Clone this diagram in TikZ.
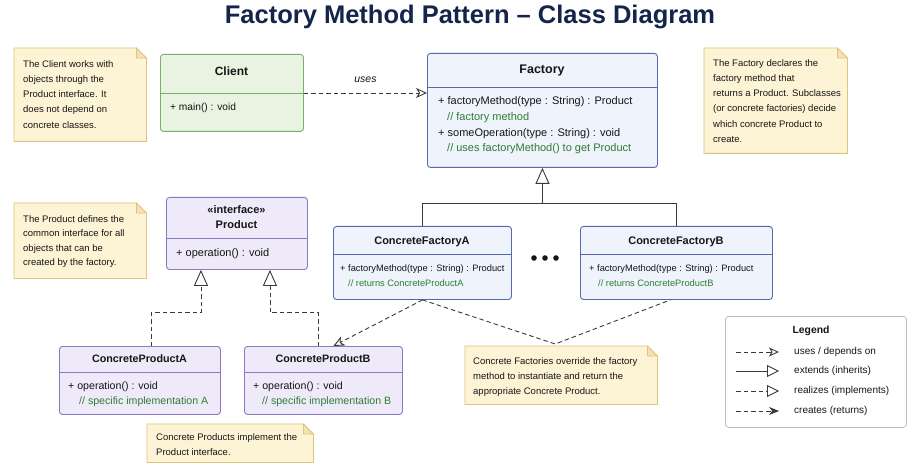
\documentclass[tikz,border=0pt]{standalone}
\usepackage{fontspec}
\setmainfont{Liberation Sans}
\usetikzlibrary{arrows.meta,calc}
\definecolor{titlecol}{HTML}{13254A}
\definecolor{txt}{HTML}{161616}
\definecolor{cmtgreen}{HTML}{2E7D32}
\definecolor{clientfill}{HTML}{E8F3E2}
\definecolor{clientline}{HTML}{7AAE6C}
\definecolor{facfill}{HTML}{EEF3FC}
\definecolor{facline}{HTML}{5669B0}
\definecolor{prodfill}{HTML}{EEEAF9}
\definecolor{prodline}{HTML}{8A79C2}
\definecolor{notefill}{HTML}{FDF3D5}
\definecolor{noteline}{HTML}{E2C37B}
\definecolor{notefold}{HTML}{F4E3B2}
\definecolor{conn}{HTML}{3A3A3A}
\definecolor{legline}{HTML}{BDBDBD}
\newcommand\fsz[1]{\fontsize{#1}{14}\selectfont}
\newcommand\drawnote[1]{%
  \filldraw[noteline, line width=0.8pt, fill=notefill] (#1.north west) -- ($(#1.north east)+(-10,0)$) -- ($(#1.north east)+(0,10)$) -- (#1.south east) -- (#1.south west) -- cycle;
  \filldraw[noteline, line width=0.8pt, fill=notefold] ($(#1.north east)+(-10,0)$) -- ($(#1.north east)+(-10,10)$) -- ($(#1.north east)+(0,10)$) -- cycle;}
\begin{document}
\begin{tikzpicture}[x=1pt,y=-1pt,
  cls/.style={draw, rounded corners=3pt, line width=0.9pt, anchor=north west, inner sep=0pt},
  notebox/.style={anchor=north west, inner sep=0pt},
  notetext/.style={anchor=north west, inner sep=0pt, align=left, text=txt},
  ctitle/.style={inner sep=0pt, text=txt, text height=8pt, text depth=2pt},
  mem/.style={anchor=west, inner sep=0pt, text=txt, text height=7pt, text depth=2pt},
  cmt/.style={mem, text=cmtgreen},
  dashline/.style={draw=conn, line width=0.9pt, dash pattern=on 4.5pt off 3pt},
  solidline/.style={draw=conn, line width=0.9pt},
  usesTip/.tip={Stealth[open, length=11pt, width=10pt, inset=3pt]},
  realTip/.tip={Triangle[open, length=16pt, width=14pt]},
  legReal/.tip={Triangle[open, length=12pt, width=12pt]},
  legUses/.tip={Stealth[open, length=10pt, width=9pt, inset=2.5pt]},
  legCreate/.tip={Stealth[length=10pt, width=8pt]},
  legtext/.style={anchor=west, inner sep=0pt, text=txt, font=\fsz{10}, text height=7pt, text depth=2pt}
]
\useasboundingbox[fill=white] (0,0) rectangle (921,465);

% title
\node[font=\fsz{25.5}\bfseries, text=titlecol, inner sep=0pt] (title) at (470,17) {Factory Method Pattern – Class Diagram};

% notes
\node[notebox, minimum width=132pt, minimum height=93pt] (n1) at (14,48) {};
\drawnote{n1}
\node[notetext, font=\fontsize{9.5}{15.2}\selectfont] (n1t) at (23,60.2) {The Client works with\\objects through the\\Product interface. It\\does not depend on\\concrete classes.};

\node[notebox, minimum width=143pt, minimum height=105pt] (n2) at (704,48) {};
\drawnote{n2}
\node[notetext, font=\fontsize{9.5}{15.2}\selectfont] (n2t) at (713,59.2) {The Factory declares the\\factory method that\\returns a Product. Subclasses\\(or concrete factories) decide\\which concrete Product to\\create.};

\node[notebox, minimum width=132pt, minimum height=75pt] (n3) at (14,203) {};
\drawnote{n3}
\node[notetext, font=\fontsize{9.5}{14.5}\selectfont] (n3t) at (23,215.2) {The Product defines the\\common interface for all\\objects that can be\\created by the factory.};

\node[notebox, minimum width=192pt, minimum height=58pt] (note3) at (465,346) {};
\drawnote{note3}
\node[notetext, font=\fontsize{9.5}{15}\selectfont] (note3t) at (473,357.2) {Concrete Factories override the factory\\method to instantiate and return the\\appropriate Concrete Product.};

\node[notebox, minimum width=166pt, minimum height=38pt] (n4) at (147,424) {};
\drawnote{n4}
\node[notetext, font=\fontsize{9.5}{15}\selectfont] (n4t) at (156,433.2) {Concrete Products implement the\\Product interface.};

% Client
\node[cls, draw=clientline, fill=clientfill, minimum width=143pt, minimum height=77pt] (client) at (160,54) {};
\coordinate (cdiv) at ($(client.north east)+(0,39)$);
\draw[clientline, line width=0.9pt] ($(client.north west)+(0,39)$) -- (cdiv);
\node[ctitle, font=\fsz{12}\bfseries] (clientT) at (231.5,73) {Client};
\node[mem, font=\fsz{10.2}] (clientM) at (170,108) {+ main() : void};

% Factory
\node[cls, draw=facline, fill=facfill, minimum width=230pt, minimum height=114pt] (factory) at (427,53) {};
\draw[facline, line width=0.9pt] ($(factory.north west)+(0,34)$) -- ($(factory.north east)+(0,34)$);
\node[ctitle, font=\fsz{12.5}\bfseries] (factoryT) at (542,71) {Factory};
\node[mem, font=\fsz{11}] (factoryM1) at (438,102) {+ factoryMethod(type : String) : Product};
\node[cmt, font=\fsz{11}] (factoryC1) at (447,118) {// factory method};
\node[mem, font=\fsz{11}] (factoryM2) at (438,134) {+ someOperation(type : String) : void};
\node[cmt, font=\fsz{11}] (factoryC2) at (447,149) {// uses factoryMethod() to get Product};

% Product
\node[cls, draw=prodline, fill=prodfill, minimum width=141pt, minimum height=72pt] (product) at (166,197) {};
\draw[prodline, line width=0.9pt] ($(product.north west)+(0,41)$) -- ($(product.north east)+(0,41)$);
\node[ctitle, font=\fsz{11}\bfseries] (productS) at (236.5,211) {«interface»};
\node[ctitle, font=\fsz{11}\bfseries] (productT) at (236.5,226) {Product};
\node[mem, font=\fsz{11}] (productM) at (176,254) {+ operation() : void};

% ConcreteFactoryA
\node[cls, draw=facline, fill=facfill, minimum width=178pt, minimum height=73pt] (cfA) at (333,226) {};
\draw[facline, line width=0.9pt] ($(cfA.north west)+(0,28)$) -- ($(cfA.north east)+(0,28)$);
\node[ctitle, font=\fsz{11}\bfseries] (cfAT) at (422,241) {ConcreteFactoryA};
\node[mem, font=\fsz{9.3}] (cfAM) at (340,269) {+ factoryMethod(type : String) : Product};
\node[cmt, font=\fsz{9.3}] (cfAC) at (348,284) {// returns ConcreteProductA};

% ConcreteFactoryB
\node[cls, draw=facline, fill=facfill, minimum width=192pt, minimum height=73pt] (cfB) at (580,226) {};
\draw[facline, line width=0.9pt] ($(cfB.north west)+(0,28)$) -- ($(cfB.north east)+(0,28)$);
\node[ctitle, font=\fsz{11}\bfseries] (cfBT) at (676,241) {ConcreteFactoryB};
\node[mem, font=\fsz{9.3}] (cfBM) at (589,269) {+ factoryMethod(type : String) : Product};
\node[cmt, font=\fsz{9.3}] (cfBC) at (598,284) {// returns ConcreteProductB};

% dots
\fill[txt] (534,258) circle (2.8pt) (545,258) circle (2.8pt) (556,258) circle (2.8pt);

% ConcreteProductA
\node[cls, draw=prodline, fill=prodfill, minimum width=161pt, minimum height=68pt] (cpA) at (59,346) {};
\draw[prodline, line width=0.9pt] ($(cpA.north west)+(0,26)$) -- ($(cpA.north east)+(0,26)$);
\node[ctitle, font=\fsz{10.75}\bfseries] (cpAT) at (139.5,359) {ConcreteProductA};
\node[mem, font=\fsz{10.6}] (cpAM) at (68,387) {+ operation() : void};
\node[cmt, font=\fsz{10.6}] (cpAC) at (79,402) {// specific implementation A};

% ConcreteProductB
\node[cls, draw=prodline, fill=prodfill, minimum width=158pt, minimum height=68pt] (cpB) at (244,346) {};
\draw[prodline, line width=0.9pt] ($(cpB.north west)+(0,26)$) -- ($(cpB.north east)+(0,26)$);
\node[ctitle, font=\fsz{10.75}\bfseries] (cpBT) at (323,359) {ConcreteProductB};
\node[mem, font=\fsz{10.6}] (cpBM) at (253,387) {+ operation() : void};
\node[cmt, font=\fsz{10.6}] (cpBC) at (262,402) {// specific implementation B};

% connectors
\draw[dashline, -{usesTip}] (cdiv) -- (factory.west |- cdiv)
  node[midway, above=10pt, font=\fsz{10.5}\itshape, text=txt, inner sep=0pt] (usesL) {uses};

\coordinate (jn) at ($(factory.south)+(0,36)$);
\draw[solidline] (cfA.north) |- (jn) -| (cfB.north);
\draw[solidline, -{realTip}] (jn) -- (factory.south);

\coordinate (rA) at ($(product.south)+(-36,43)$);
\coordinate (rB) at ($(product.south)+(33,43)$);
\draw[dashline, -{realTip}] ($(cpA.north)+(11,0)$) |- (rA) -- ($(product.south)+(-36,0)$);
\draw[dashline, -{realTip}] ($(cpB.north)+(-5,0)$) |- (rB) -- ($(product.south)+(33,0)$);

\draw[dashline, -{usesTip}] (cfA.south) -- ($(cpB.north)+(10,0)$);
\draw[dashline] (cfA.south) -- ($(note3.north)+(-6,-2)$) -- ($(cfB.south)+(-6,0)$);

% legend
\node[cls, draw=legline, fill=white, line width=0.8pt, minimum width=181pt, minimum height=111pt] (legend) at (725,316) {};
\node[ctitle, font=\fsz{10.4}\bfseries] (legendT) at (811,330) {Legend};
\coordinate (l1a) at (736,352); \coordinate (l1b) at (779,352);
\coordinate (l2a) at (736,371); \coordinate (l2b) at (779,371);
\coordinate (l3a) at (736,391); \coordinate (l3b) at (779,391);
\coordinate (l4a) at (736,411); \coordinate (l4b) at (779,411);
\draw[dashline, -{legUses}] (l1a) -- (l1b);
\draw[solidline, -{legReal}] (l2a) -- (l2b);
\draw[dashline, -{legReal}] (l3a) -- (l3b);
\draw[dashline, -{legCreate}] (l4a) -- (l4b);
\node[legtext] (leg1) at (794,352) {uses / depends on};
\node[legtext] (leg2) at (794,371) {extends (inherits)};
\node[legtext] (leg3) at (794,391) {realizes (implements)};
\node[legtext] (leg4) at (794,411) {creates (returns)};
\end{tikzpicture}
\end{document}
